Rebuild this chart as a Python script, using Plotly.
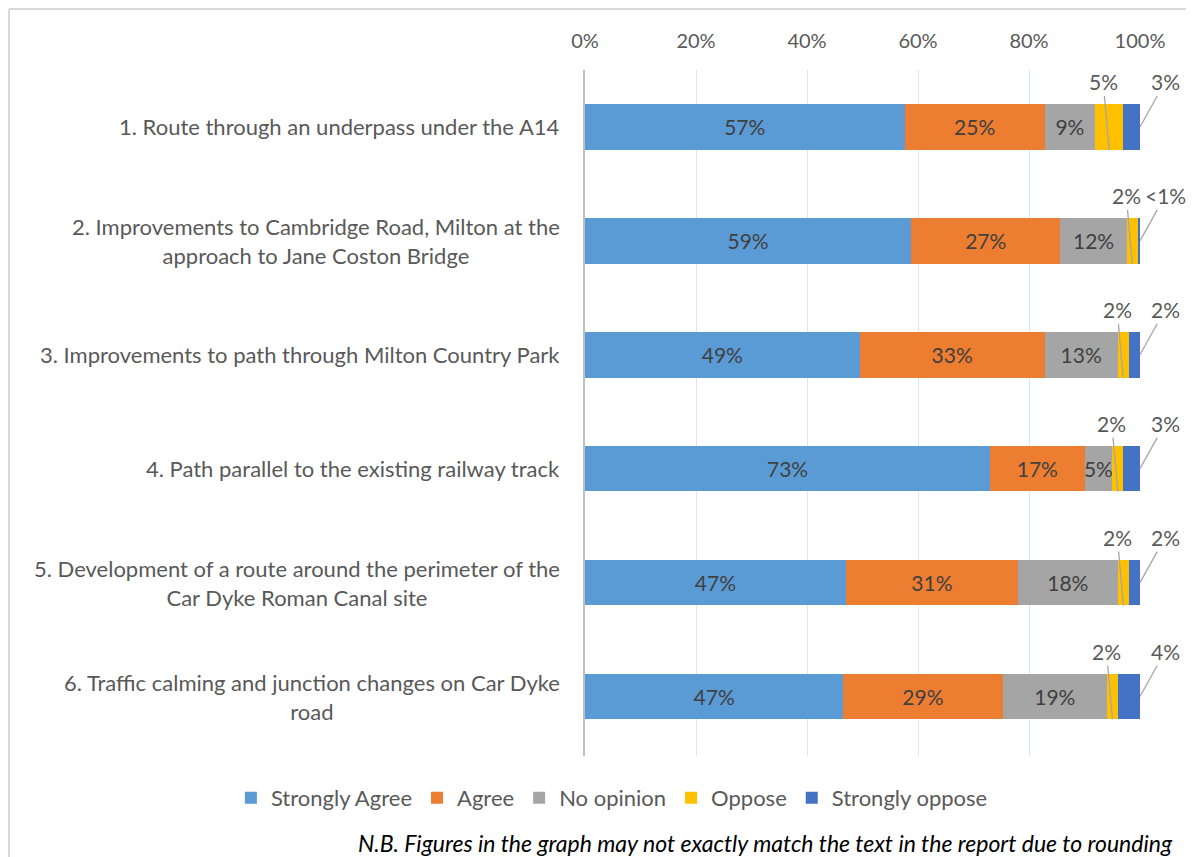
import plotly.graph_objects as go

CATEGORIES = [
    "1. Route through an underpass under the A14",
    "2. Improvements to Cambridge Road, Milton at the<br>approach to Jane Coston Bridge",
    "3. Improvements to path through Milton Country Park",
    "4. Path parallel to the existing railway track",
    "5. Development of a route around the perimeter of the<br>Car Dyke Roman Canal site",
    "6. Traffic calming and junction changes on Car Dyke<br>road",
]
SERIES = ["Strongly Agree", "Agree", "No opinion", "Oppose", "Strongly oppose"]
COLORS = ["#5B9BD5", "#ED7D31", "#A5A5A5", "#FFC000", "#4472C4"]

strongly_agree = [57, 59, 49, 73, 47, 47]
agree = [25, 27, 33, 17, 31, 29]
no_opinion = [9, 12, 13, 5, 18, 19]
oppose = [5, 2, 2, 2, 2, 2]
strongly_oppose = [3, 0.4, 2, 3, 2, 4]

TICK_VALS = [0, 20, 40, 60, 80, 100]
TICK_TEXT = ["0%", "20%", "40%", "60%", "80%", "100%"]
NOTE = "N.B. Figures in the graph may not exactly match the text in the report due to rounding"

FONT = "Lato, Calibri, sans-serif"
TEXT_GREY = "#595959"

values = [strongly_agree, agree, no_opinion, oppose, strongly_oppose]
totals = [sum(v[i] for v in values) for i in range(len(CATEGORIES))]
shares = [[v[i] / totals[i] * 100 for i in range(len(CATEGORIES))] for v in values]


def label(v):
    return "<1%" if v < 1 else f"{v:g}%"


fig = go.Figure()
for k, name in enumerate(SERIES):
    inside = k < 3
    fig.add_trace(go.Bar(
        name=name,
        y=CATEGORIES,
        x=shares[k],
        orientation="h",
        marker=dict(color=COLORS[k], line=dict(width=0)),
        text=[label(v) for v in values[k]] if inside else None,
        textposition="inside" if inside else "none",
        insidetextanchor="middle",
        textangle=0,
        constraintext="none",
        textfont=dict(family=FONT, size=21, color="#404040"),
        hoverinfo="skip",
    ))

# callout labels for the small segments
for i, cat in enumerate(CATEGORIES):
    before = shares[0][i] + shares[1][i] + shares[2][i]
    fig.add_annotation(
        x=before + shares[3][i] / 2, y=cat, text=label(oppose[i]),
        showarrow=True, arrowhead=0, arrowwidth=1.3, arrowcolor="#A6A6A6",
        ax=-6, ay=-68, yshift=-23, standoff=0,
        font=dict(family=FONT, size=21, color=TEXT_GREY),
    )
    fig.add_annotation(
        x=100, y=cat, text=label(strongly_oppose[i]),
        showarrow=True, arrowhead=0, arrowwidth=1.3, arrowcolor="#A6A6A6",
        ax=25, ay=-45, standoff=0,
        font=dict(family=FONT, size=21, color=TEXT_GREY),
    )
    fig.add_annotation(
        x=-0.0414, xref="paper", y=cat, text=cat,
        showarrow=False, xanchor="right", align="center",
        font=dict(family=FONT, size=22, color=TEXT_GREY),
    )

fig.add_annotation(
    x=1.063, xref="paper", y=-0.127, yref="paper", text=f"<i>{NOTE}</i>",
    showarrow=False, xanchor="right", yanchor="middle",
    font=dict(family=FONT, size=23, color="#000000"),
)

# chart frame
fig.add_shape(type="line", xref="paper", yref="paper", x0=-1.0378, x1=-1.0378,
              y0=1.0889, y1=-0.2, line=dict(color="#D9D9D9", width=2))
fig.add_shape(type="line", xref="paper", yref="paper", x0=-1.0378, x1=1.2,
              y0=1.0889, y1=1.0889, line=dict(color="#D9D9D9", width=2))

fig.update_layout(
    width=1186, height=849,
    barmode="stack",
    bargap=0.6,
    plot_bgcolor="white",
    paper_bgcolor="white",
    margin=dict(l=577, r=54, t=62, b=101, autoexpand=False),
    font=dict(family=FONT, size=21, color=TEXT_GREY),
    legend=dict(
        orientation="h", x=-0.638, xanchor="left", y=-0.061, yanchor="middle",
        font=dict(family=FONT, size=22, color=TEXT_GREY),
        traceorder="normal", itemwidth=30,
    ),
    xaxis=dict(
        side="top", range=[0, 100], tickvals=TICK_VALS, ticktext=TICK_TEXT,
        showgrid=True, gridcolor="#DCE6F2", gridwidth=1, zeroline=False,
        tickfont=dict(family=FONT, size=20, color=TEXT_GREY),
        ticklabelstandoff=17, fixedrange=True,
    ),
    yaxis=dict(
        autorange="reversed", showticklabels=False, showgrid=False,
        showline=True, linecolor="#BFBFBF", linewidth=1.5, zeroline=False,
        fixedrange=True,
    ),
    showlegend=True,
)

fig.write_html("out.html")
